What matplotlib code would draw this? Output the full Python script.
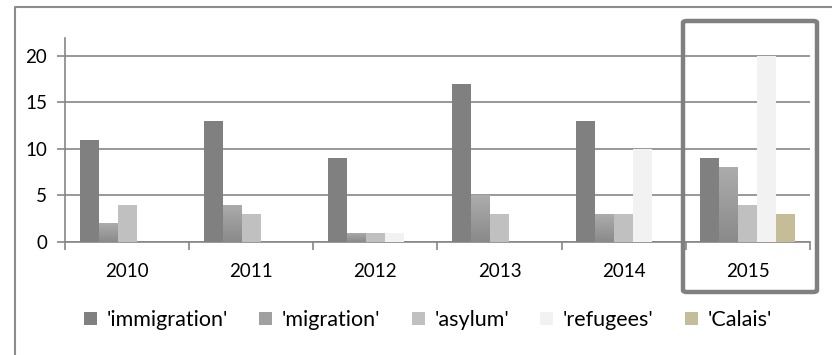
import matplotlib
matplotlib.use('Agg')
import matplotlib.pyplot as plt
import numpy as np
from matplotlib.colors import LinearSegmentedColormap
from matplotlib.lines import Line2D
from matplotlib.patches import FancyBboxPatch

years = ['2010', '2011', '2012', '2013', '2014', '2015']
terms = ["'immigration'", "'migration'", "'asylum'", "'refugees'", "'Calais'"]
immigration = [11, 13, 9, 17, 13, 9]
migration = [2, 4, 1, 5, 3, 8]
asylum = [4, 3, 1, 3, 3, 4]
refugees = [0, 0, 1, 0, 10, 20]
calais = [0, 0, 0, 0, 0, 3]
series = [immigration, migration, asylum, refugees, calais]
colors = ['#808080', '#a0a0a0', '#c0c0c0', '#f2f2f2', '#c4bd97']

plt.rcParams['font.family'] = ['Lato', 'DejaVu Sans']

W, H = 832, 355
fig = plt.figure(figsize=(W / 100, H / 100), dpi=100)

# axes placed in pixel units of the reference
x0, x1, ytop, ybot = 65, 810, 38, 242
ax = fig.add_axes([x0 / W, (H - ybot) / H, (x1 - x0) / W, (ybot - ytop) / H])

n = len(years)
bw = 0.153
x = np.arange(n)
grad = LinearSegmentedColormap.from_list('mig', ['#8a8a8a', '#acacac'])
handles = []
for i, (vals, col) in enumerate(zip(series, colors)):
    pos = x - 2.5 * bw + (i + 0.5) * bw
    bars = ax.bar(pos, vals, width=bw, color=col, linewidth=0, zorder=3)
    handles.append(bars)
    if i == 1:
        for b in bars:
            h = b.get_height()
            if h <= 0:
                continue
            im = ax.imshow(np.linspace(0, 1, 100).reshape(-1, 1), cmap=grad,
                           origin='lower', aspect='auto', zorder=3.5,
                           extent=[b.get_x(), b.get_x() + bw, 0, h])
            im.set_clip_path(b)

ax.set_xlim(-0.5, n - 0.5)
ax.set_ylim(0, 21.9)
ax.set_yticks([0, 5, 10, 15, 20])
ax.yaxis.grid(True, color='#868686', linewidth=1.2, zorder=1)
ax.set_axisbelow(True)
ax.set_xticks(x)
ax.set_xticklabels(years)
ax.set_xticks(np.arange(n + 1) - 0.5, minor=True)
ax.tick_params(axis='x', which='major', length=0, pad=15, labelsize=13.5)
ax.tick_params(axis='x', which='minor', length=6, width=1.2, color='#868686', direction='out')
ax.tick_params(axis='y', length=6, width=1.2, color='#868686', pad=7, labelsize=13.5)
for s in ['top', 'right']:
    ax.spines[s].set_visible(False)
for s in ['left', 'bottom']:
    ax.spines[s].set_color('#868686')
    ax.spines[s].set_linewidth(1.2)

# outer chart frame (cut off by the image edge at right/bottom)
fig.add_artist(Line2D([15 / W, 15 / W, 1], [0, (H - 7) / H, (H - 7) / H],
                      transform=fig.transFigure, color='#8c8c8c', linewidth=1.5))

# highlight box around 2015
fig.add_artist(FancyBboxPatch((683 / W, (H - 292) / H), 134 / W, 271 / H,
                              boxstyle='round,pad=0,rounding_size=0.005',
                              transform=fig.transFigure, facecolor='none',
                              edgecolor='#808080', linewidth=3.2, zorder=10))

fig.legend(handles, terms, loc='center', bbox_to_anchor=(428 / W, (H - 320) / H),
           ncol=5, frameon=False, fontsize=15.5, handlelength=0.6, handleheight=0.6,
           handletextpad=0.45, columnspacing=1.45, borderaxespad=0)

fig.savefig('out.png', dpi=100)
